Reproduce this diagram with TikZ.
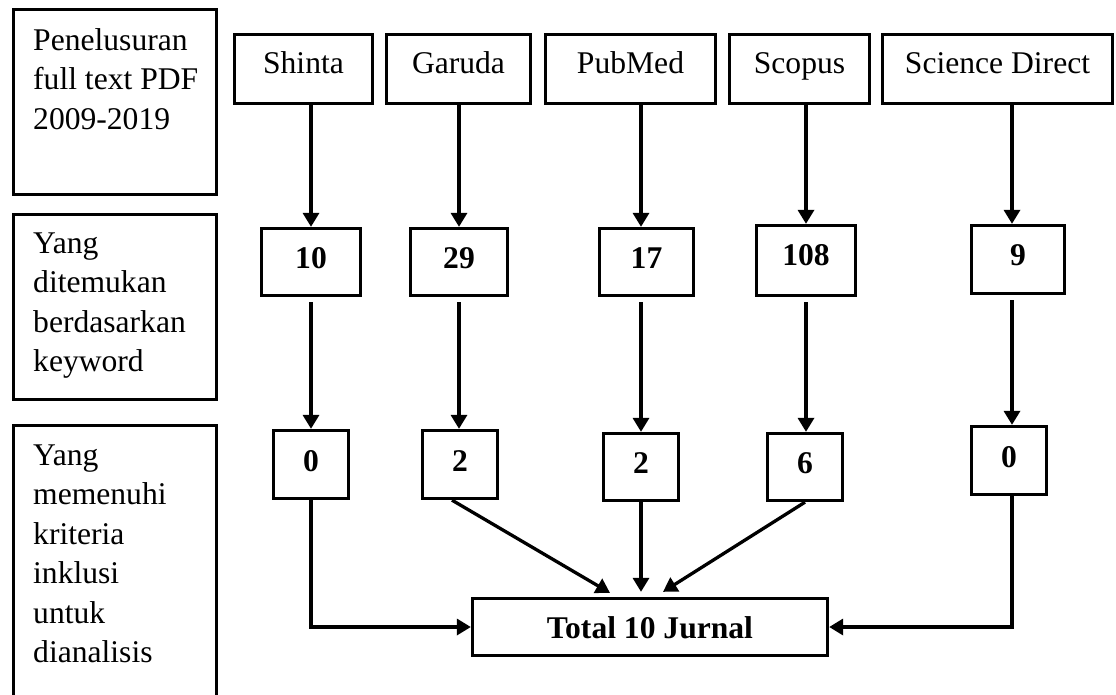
\documentclass[tikz,border=0pt]{standalone}
\usepackage{fontspec}
\setmainfont{Liberation Serif}
\usetikzlibrary{arrows.meta,calc}
\begin{document}
\begin{tikzpicture}[x=1pt,y=-1pt,
  txt/.style={font=\fontsize{31.6}{39.5}\selectfont},
  numtxt/.style={font=\fontsize{31.6}{39.5}\selectfont\bfseries},
  box/.style={draw,line width=3.3pt,inner sep=0pt},
  frame/.style={draw,line width=3.5pt},
  lbl/.style={txt,align=left,inner sep=0pt,anchor=base west},
  arr/.style={line width=3.3pt,-{Triangle[length=14pt,width=16pt]}}
]
\useasboundingbox (0,0) rectangle (1116,694);
\clip (0,0) rectangle (1116,694);

% left column frames and labels
\draw[frame] (13.7,9.7) rectangle (216.3,194.3);
\draw[frame] (13.7,214.7) rectangle (216.3,399.3);
\draw[frame] (13.7,425.7) rectangle (216.3,730);
\node[lbl] (l1) at (33,129) {Penelusuran\\full text PDF\\2009-2019};
\node[lbl] (l2) at (33,371.5) {Yang\\ditemukan\\berdasarkan\\keyword};
\node[lbl] (l3) at (33,662.5) {Yang\\memenuhi\\kriteria\\inklusi\\untuk\\dianalisis};

% top row
\node[box,txt,minimum width=138pt,minimum height=69pt,text height=21pt,text depth=13pt] (shinta) at (303.5,69) {Shinta};
\node[box,txt,minimum width=144pt,minimum height=69pt,text height=21pt,text depth=13pt] (garuda) at (458.5,69) {Garuda};
\node[box,txt,minimum width=170pt,minimum height=69pt,text height=21pt,text depth=13pt] (pubmed) at (630.5,69) {PubMed};
\node[box,txt,minimum width=140pt,minimum height=69pt,text height=21pt,text depth=13pt] (scopus) at (799.5,69) {Scopus};
\node[box,txt,minimum width=230pt,minimum height=69pt,text height=21pt,text depth=13pt] (sd) at (997.5,69) {Science Direct};

% second row
\node[box,numtxt,minimum width=99pt,minimum height=67pt,text height=21pt,text depth=9pt] (r10) at (311,262) {10};
\node[box,numtxt,minimum width=97pt,minimum height=67pt,text height=21pt,text depth=9pt] (r29) at (459,262) {29};
\node[box,numtxt,minimum width=94pt,minimum height=67pt,text height=21pt,text depth=9pt] (r17) at (646.5,262) {17};
\node[box,numtxt,minimum width=99pt,minimum height=70pt,text height=21pt,text depth=12pt] (r108) at (806,260.5) {108};
\node[box,numtxt,minimum width=93pt,minimum height=68pt,text height=21pt,text depth=10pt] (r9) at (1018,259.5) {9};

% third row
\node[box,numtxt,minimum width=75pt,minimum height=68pt,text height=21pt,text depth=8pt] (s1) at (311,464.5) {0};
\node[box,numtxt,minimum width=75pt,minimum height=68pt,text height=21pt,text depth=8pt] (s2) at (460,464.5) {2};
\node[box,numtxt,minimum width=75pt,minimum height=67pt,text height=21pt,text depth=9pt] (s3) at (641,467) {2};
\node[box,numtxt,minimum width=75pt,minimum height=67pt,text height=21pt,text depth=9pt] (s4) at (805,467) {6};
\node[box,numtxt,minimum width=75pt,minimum height=68pt,text height=21pt,text depth=8pt] (s5) at (1009,460.5) {0};

% total
\node[box,numtxt,minimum width=355pt,minimum height=57pt,text height=24pt,text depth=2pt] (total) at (650,627) {Total 10 Jurnal};

\coordinate (xsd) at (1012,0);

% row 1 -> row 2
\draw[arr] (shinta.south -| r10.north) -- (r10.north);
\draw[arr] (garuda.south -| r29.north) -- (r29.north);
\draw[arr] (pubmed.south -| s3.north) -- (r17.north -| s3.north);
\draw[arr] (scopus.south -| r108.north) -- (r108.north);
\draw[arr] (sd.south -| xsd) -- (r9.north -| xsd);

% row 2 -> row 3
\draw[arr,shorten <=5pt] (r10.south) -- (r10.south |- s1.north);
\draw[arr,shorten <=5pt] (r29.south) -- (r29.south |- s2.north);
\draw[arr,shorten <=5pt] (r17.south -| s3.north) -- (s3.north);
\draw[arr,shorten <=5pt] (r108.south) -- (r108.south |- s4.north);
\draw[arr,shorten <=5pt] (r9.south -| xsd) -- (s5.north -| xsd);

% row 3 -> total
\draw[arr] (s1.south) -- (s1.south |- total.west) -- (total.west);
\draw[arr] ($(s2.south)+(-8,0)$) -- ($(total.north)+(-40,-4)$);
\draw[arr] (s3.south) -- ($(s3.south |- total.north)+(0,-5)$);
\draw[arr] (s4.south) -- ($(total.north)+(13,-5)$);
\draw[arr] (s5.south -| xsd) -- (xsd |- total.east) -- (total.east);
\end{tikzpicture}
\end{document}
